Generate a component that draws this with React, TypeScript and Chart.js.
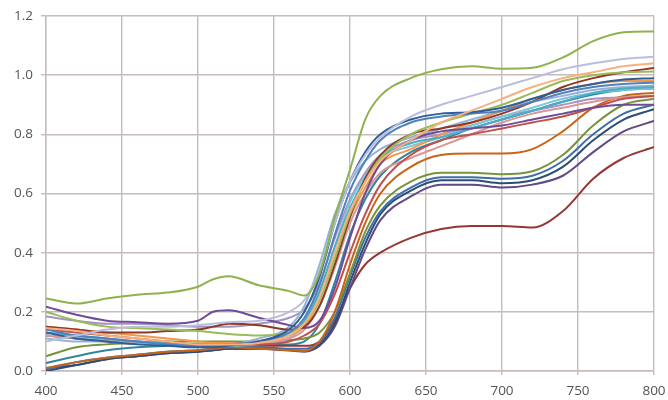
import React, { useEffect, useRef } from "react";
import { Chart, registerables } from "chart.js";

Chart.register(...registerables);

const wavelengths = [400, 420, 440, 460, 480, 500, 510, 520, 540, 560, 570, 580, 590, 600, 610, 620, 640, 660, 680, 700, 720, 740, 760, 780, 800];

const greenTop = [0.245, 0.228, 0.245, 0.258, 0.265, 0.285, 0.31, 0.32, 0.29, 0.27, 0.255, 0.33, 0.52, 0.68, 0.85, 0.93, 0.99, 1.02, 1.03, 1.022, 1.025, 1.06, 1.115, 1.145, 1.148];
const lavender = [0.10, 0.12, 0.14, 0.15, 0.15, 0.155, 0.16, 0.165, 0.17, 0.2, 0.24, 0.34, 0.5, 0.64, 0.73, 0.79, 0.86, 0.9, 0.93, 0.96, 0.99, 1.02, 1.04, 1.055, 1.062];
const peach = [0.145, 0.135, 0.12, 0.11, 0.1, 0.09, 0.09, 0.09, 0.095, 0.12, 0.16, 0.25, 0.4, 0.54, 0.64, 0.71, 0.78, 0.84, 0.88, 0.92, 0.96, 0.99, 1.01, 1.03, 1.04];
const blueDark = [0.13, 0.11, 0.1, 0.09, 0.085, 0.08, 0.08, 0.085, 0.1, 0.14, 0.2, 0.32, 0.5, 0.64, 0.74, 0.8, 0.85, 0.87, 0.875, 0.89, 0.92, 0.95, 0.97, 0.985, 0.99];
const blue = [0.14, 0.12, 0.11, 0.1, 0.09, 0.085, 0.085, 0.09, 0.1, 0.13, 0.18, 0.29, 0.46, 0.61, 0.71, 0.78, 0.84, 0.86, 0.87, 0.88, 0.91, 0.94, 0.96, 0.97, 0.975];
const lightGreen = [0.2, 0.17, 0.15, 0.145, 0.14, 0.135, 0.13, 0.125, 0.12, 0.13, 0.16, 0.24, 0.38, 0.53, 0.64, 0.72, 0.8, 0.84, 0.87, 0.9, 0.94, 0.98, 1.0, 1.01, 1.012];
const brown = [0.15, 0.14, 0.13, 0.13, 0.135, 0.14, 0.15, 0.16, 0.155, 0.14, 0.15, 0.22, 0.36, 0.52, 0.65, 0.73, 0.8, 0.82, 0.84, 0.87, 0.91, 0.96, 0.99, 1.01, 1.024];
const purple = [0.217, 0.19, 0.17, 0.165, 0.16, 0.17, 0.2, 0.205, 0.18, 0.155, 0.145, 0.17, 0.28, 0.45, 0.6, 0.7, 0.78, 0.81, 0.82, 0.83, 0.85, 0.87, 0.89, 0.9, 0.9];
const red = [0.14, 0.13, 0.12, 0.11, 0.1, 0.09, 0.09, 0.09, 0.09, 0.1, 0.12, 0.16, 0.26, 0.4, 0.53, 0.63, 0.73, 0.78, 0.8, 0.82, 0.84, 0.86, 0.89, 0.92, 0.93];
const aqua = [0.13, 0.12, 0.11, 0.1, 0.095, 0.09, 0.09, 0.09, 0.1, 0.12, 0.17, 0.27, 0.42, 0.55, 0.65, 0.72, 0.77, 0.79, 0.82, 0.85, 0.88, 0.91, 0.94, 0.955, 0.96];
const orange = [0.15, 0.14, 0.13, 0.12, 0.11, 0.1, 0.095, 0.095, 0.1, 0.12, 0.15, 0.24, 0.38, 0.52, 0.62, 0.7, 0.75, 0.8, 0.84, 0.88, 0.92, 0.95, 0.97, 0.98, 0.98];
const pink = [0.12, 0.11, 0.1, 0.1, 0.095, 0.09, 0.09, 0.09, 0.095, 0.11, 0.14, 0.22, 0.35, 0.5, 0.6, 0.67, 0.72, 0.76, 0.8, 0.84, 0.87, 0.89, 0.91, 0.925, 0.93];
const lightAqua = [0.12, 0.115, 0.105, 0.1, 0.09, 0.085, 0.085, 0.085, 0.09, 0.11, 0.16, 0.26, 0.42, 0.57, 0.66, 0.72, 0.76, 0.79, 0.83, 0.86, 0.89, 0.92, 0.94, 0.95, 0.955];
const lightBlue = [0.11, 0.1, 0.1, 0.095, 0.09, 0.09, 0.09, 0.09, 0.11, 0.15, 0.22, 0.36, 0.53, 0.64, 0.71, 0.75, 0.79, 0.82, 0.85, 0.88, 0.91, 0.93, 0.95, 0.96, 0.965];
const darkOrange = [0.01, 0.03, 0.045, 0.055, 0.065, 0.07, 0.075, 0.08, 0.075, 0.07, 0.068, 0.1, 0.2, 0.36, 0.5, 0.6, 0.69, 0.73, 0.735, 0.735, 0.75, 0.81, 0.89, 0.93, 0.94];
const greenLow = [0.05, 0.08, 0.09, 0.095, 0.1, 0.1, 0.1, 0.1, 0.1, 0.105, 0.11, 0.13, 0.2, 0.33, 0.47, 0.56, 0.64, 0.67, 0.67, 0.665, 0.675, 0.73, 0.83, 0.9, 0.92];
const blueLow = [0.005, 0.03, 0.045, 0.055, 0.065, 0.07, 0.075, 0.08, 0.08, 0.075, 0.075, 0.1, 0.18, 0.32, 0.45, 0.54, 0.62, 0.655, 0.655, 0.65, 0.66, 0.71, 0.8, 0.87, 0.9];
const navyLow = [0.0, 0.02, 0.04, 0.05, 0.06, 0.065, 0.07, 0.075, 0.075, 0.07, 0.068, 0.09, 0.16, 0.3, 0.43, 0.53, 0.61, 0.645, 0.645, 0.635, 0.645, 0.69, 0.78, 0.85, 0.885];
const purpleLow = [0.01, 0.02, 0.04, 0.05, 0.06, 0.065, 0.07, 0.075, 0.075, 0.07, 0.065, 0.085, 0.15, 0.28, 0.41, 0.51, 0.59, 0.63, 0.63, 0.62, 0.63, 0.66, 0.74, 0.81, 0.845];
const darkRed = [0.12, 0.11, 0.1, 0.095, 0.09, 0.085, 0.085, 0.085, 0.085, 0.085, 0.085, 0.1, 0.17, 0.28, 0.36, 0.4, 0.45, 0.48, 0.49, 0.49, 0.485, 0.54, 0.65, 0.72, 0.757];
const lilac = [0.184, 0.17, 0.16, 0.16, 0.155, 0.15, 0.15, 0.15, 0.16, 0.18, 0.21, 0.3, 0.45, 0.58, 0.67, 0.73, 0.78, 0.8, 0.83, 0.86, 0.88, 0.9, 0.92, 0.925, 0.93];
const tealLow = [0.027, 0.05, 0.07, 0.08, 0.085, 0.09, 0.09, 0.09, 0.09, 0.09, 0.1, 0.16, 0.3, 0.46, 0.58, 0.66, 0.74, 0.78, 0.82, 0.85, 0.88, 0.91, 0.935, 0.95, 0.955];

const seriesList = [
  { values: greenTop, color: "#8fb24e" },
  { values: lavender, color: "#b9bedc" },
  { values: peach, color: "#f7b07e" },
  { values: blueDark, color: "#2f5f98" },
  { values: blue, color: "#4f81bd" },
  { values: lightGreen, color: "#9bbb59" },
  { values: brown, color: "#8b3a2a" },
  { values: purple, color: "#6f4c99" },
  { values: red, color: "#c0504d" },
  { values: aqua, color: "#4bacc6" },
  { values: orange, color: "#f79646" },
  { values: pink, color: "#d99694" },
  { values: lightAqua, color: "#7fc4d8" },
  { values: lightBlue, color: "#95b3d7" },
  { values: darkOrange, color: "#c8641a" },
  { values: greenLow, color: "#77933c" },
  { values: blueLow, color: "#3f6fa8" },
  { values: navyLow, color: "#2c4d75" },
  { values: purpleLow, color: "#5f4a86" },
  { values: darkRed, color: "#953735" },
  { values: lilac, color: "#a593c4" },
  { values: tealLow, color: "#31859c" },
];

const xTicks = [400, 450, 500, 550, 600, 650, 700, 750, 800];
const yTicks = [0, 0.2, 0.4, 0.6, 0.8, 1.0, 1.2];

export default function App() {
  const ref = useRef<HTMLCanvasElement | null>(null);
  useEffect(() => {
    if (!ref.current) return;
    const gridColor = "#c6bcb8";
    const tickFont = { family: "Open Sans", size: 13.5 };
    const chart = new Chart(ref.current, {
      type: "line",
      data: {
        datasets: seriesList.map((s, i) => ({
          label: "s" + i,
          data: wavelengths.map((w, j) => ({ x: w, y: s.values[j] })),
          borderColor: s.color,
          backgroundColor: s.color,
          borderWidth: 2,
          pointRadius: 0,
          fill: false,
          cubicInterpolationMode: "monotone" as const,
        })),
      },
      options: {
        animation: false,
        responsive: false,
        layout: { padding: { left: 0, right: 14, top: 16, bottom: 0 } },
        plugins: { legend: { display: false }, tooltip: { enabled: false } },
        scales: {
          x: {
            type: "linear",
            min: 400,
            max: 800,
            afterBuildTicks: (s: any) => { s.ticks = xTicks.map((v) => ({ value: v })); },
            afterFit: (s: any) => { s.height = 29; s.paddingLeft = 0; s.paddingRight = 0; },
            grid: { color: gridColor, lineWidth: 1.4, drawTicks: true, tickLength: 4 },
            border: { color: gridColor, width: 1.4 },
            ticks: { color: "#555555", font: tickFont, padding: 8, maxRotation: 0 },
          },
          y: {
            type: "linear",
            min: 0,
            max: 1.2,
            afterBuildTicks: (s: any) => { s.ticks = yTicks.map((v) => ({ value: v })); },
            afterFit: (s: any) => { s.width = 46; s.paddingTop = 0; s.paddingBottom = 0; },
            grid: { color: gridColor, lineWidth: 1.4, drawTicks: true, tickLength: 5 },
            border: { color: gridColor, width: 1.4 },
            ticks: {
              color: "#555555",
              font: tickFont,
              padding: 8,
              callback: (v: any) => Number(v).toFixed(1),
            },
          },
        },
      },
    });
    return () => chart.destroy();
  }, []);
  return (
    <div style={{ position: "fixed", left: 0, top: 0, width: 668, height: 400, background: "#fff" }}>
      <canvas ref={ref} width={668} height={400} />
    </div>
  );
}
